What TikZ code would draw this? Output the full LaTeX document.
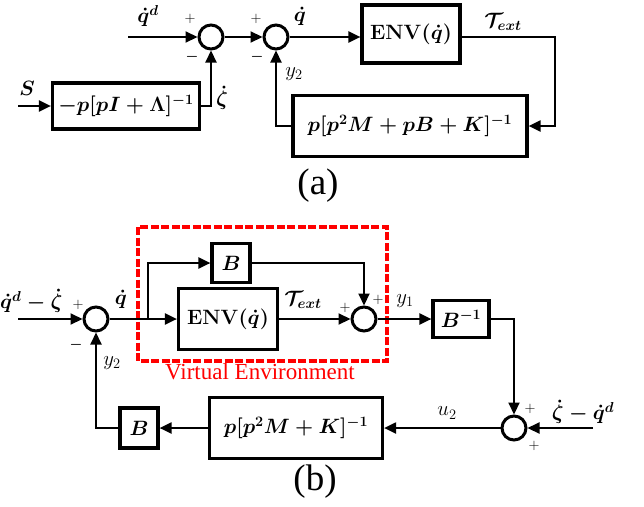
\documentclass[tikz,border=0pt]{standalone}
\usepackage{amsmath}
\usepackage[no-math]{fontspec}
\setmainfont{Liberation Serif}
\usetikzlibrary{arrows.meta}
\tikzset{
  blk/.style={draw, line width=3.2pt, inner sep=0pt, font=\fontsize{22}{24}\selectfont\boldmath},
  sumc/.style={circle, draw, line width=3pt, minimum size=24pt, inner sep=0pt},
  ln/.style={line width=2.1pt},
  arr/.style={line width=2.1pt, -{Triangle[length=12pt,width=11pt]}},
  lbl/.style={inner sep=0pt, font=\fontsize{21}{23}\selectfont\boldmath},
  lbln/.style={inner sep=0pt, font=\fontsize{20}{22}\selectfont},
  sgn/.style={inner sep=0pt, font=\fontsize{14}{16}\selectfont},
  msgn/.style={inner sep=0pt, font=\fontsize{15}{16}\selectfont\boldmath},
  captxt/.style={inner sep=0pt, font=\fontsize{37}{40}\selectfont},
  redbox/.style={draw=red, line width=3.2pt, dash pattern=on 8pt off 2.5pt}
}
\begin{document}
\begin{tikzpicture}[x=1pt,y=-1pt]
\useasboundingbox (0,0) rectangle (644,506);
% ---------------- (a) ----------------
\node[sumc] (c1) at (211,37) {};
\node[sumc] (c2) at (276,37) {};
\node[blk, minimum width=147pt, minimum height=46pt] (S) at (126,106) {$-p[pI+\Lambda]^{-1}$};
\node[blk, minimum width=98pt, minimum height=58pt] (env) at (411,34) {$\mathbf{ENV}(\dot q)$};
\node[blk, minimum width=234pt, minimum height=61pt] (fbA) at (410,126) {$p[p^2M+pB+K]^{-1}$};
\coordinate (inA) at (128,37);
\coordinate (inS) at (18,106);
\coordinate (ca) at (555,37);
\draw[arr] (inA) -- (c1.west);
\draw[arr] (c1.east) -- (c2.west);
\draw[arr] (c2.east) -- (env.west |- c2);
\draw[arr] (env.east |- c2) -- (ca) |- (fbA.east);
\draw[arr] (fbA.west) -| (c2.south);
\draw[arr] (inS) -- (S.west);
\draw[arr] (S.east) -| (c1.south);
\node[lbl] (lqd) at (148,16) {$\dot q^d$};
\node[lbl] (lS) at (27,88) {$S$};
\node[sgn] (p1) at (190,19) {$+$};
\node[msgn] (m1) at (192,57) {$-$};
\node[sgn] (p2) at (256,19) {$+$};
\node[msgn] (m2) at (257,57) {$-$};
\node[lbl] (lz) at (222,98) {$\dot\zeta$};
\node[lbl] (lqa) at (300,16) {$\dot q$};
\node[lbln] (ly2a) at (294,74) {$y_2$};
\node[lbl] (lTa) at (503,22) {$\mathcal{T}_{ext}$};
\node[captxt] (capa) at (318,186) {(a)};
% ---------------- (b) ----------------
\draw[redbox] (138,227) rectangle (387,361);
\node[inner sep=0pt, text=red, font=\fontsize{23}{25}\selectfont] (ve) at (260,372) {Virtual Environment};
\node[sumc] (c3) at (96,319) {};
\node[sumc] (c4) at (364,319) {};
\node[sumc] (c5) at (514,428) {};
\node[blk, minimum width=38pt, minimum height=39pt] (Bt) at (231,263) {$B$};
\node[blk, minimum width=99pt, minimum height=61pt] (envb) at (228,319) {$\mathbf{ENV}(\dot q)$};
\node[blk, minimum width=56pt, minimum height=37pt] (Binv) at (461,319) {$B^{-1}$};
\node[blk, minimum width=173pt, minimum height=61pt] (fbB) at (296,428) {$p[p^2M+K]^{-1}$};
\node[blk, minimum width=38pt, minimum height=40pt] (Bb) at (139,428) {$B$};
\coordinate (inB) at (18,319);
\coordinate (br) at (148,319);
\coordinate (brt) at (148,263);
\coordinate (cb) at (364,263);
\coordinate (inC) at (593,428);
\draw[arr] (inB) -- (c3.west);
\draw[arr] (c3.east) -- (envb.west);
\draw[arr] (br) -- (brt) -- (Bt.west);
\draw[arr] (Bt.east) -- (cb) -- (c4.north);
\draw[arr] (envb.east) -- (c4.west);
\draw[arr] (c4.east) -- (Binv.west);
\draw[arr] (Binv.east) -| (c5.north);
\draw[arr] (inC) -- (c5.east);
\draw[arr] (c5.west) -- (fbB.east);
\draw[arr] (fbB.west) -- (Bb.east);
\draw[arr] (Bb.west) -| (c3.south);
\node[lbl, anchor=west] (lin) at (0,301) {$\dot q^d-\dot\zeta$};
\node[sgn] (p3) at (78,305) {$+$};
\node[msgn] (m3) at (76,345) {$-$};
\node[lbl] (lqb) at (121,299) {$\dot q$};
\node[lbl] (lTb) at (303,300) {$\mathcal{T}_{ext}$};
\node[sgn] (p4) at (345,308) {$+$};
\node[sgn] (p5) at (378,300) {$+$};
\node[lbln] (ly1) at (405,301) {$y_1$};
\node[lbl] (lzq) at (583,412) {$\dot\zeta-\dot q^d$};
\node[sgn] (p6) at (530,409) {$+$};
\node[sgn] (p7) at (534,446) {$+$};
\node[lbln] (lu2) at (447,413) {$u_2$};
\node[lbln] (ly2b) at (112,363) {$y_2$};
\node[captxt] (capb) at (315,482) {(b)};
\end{tikzpicture}
\end{document}
